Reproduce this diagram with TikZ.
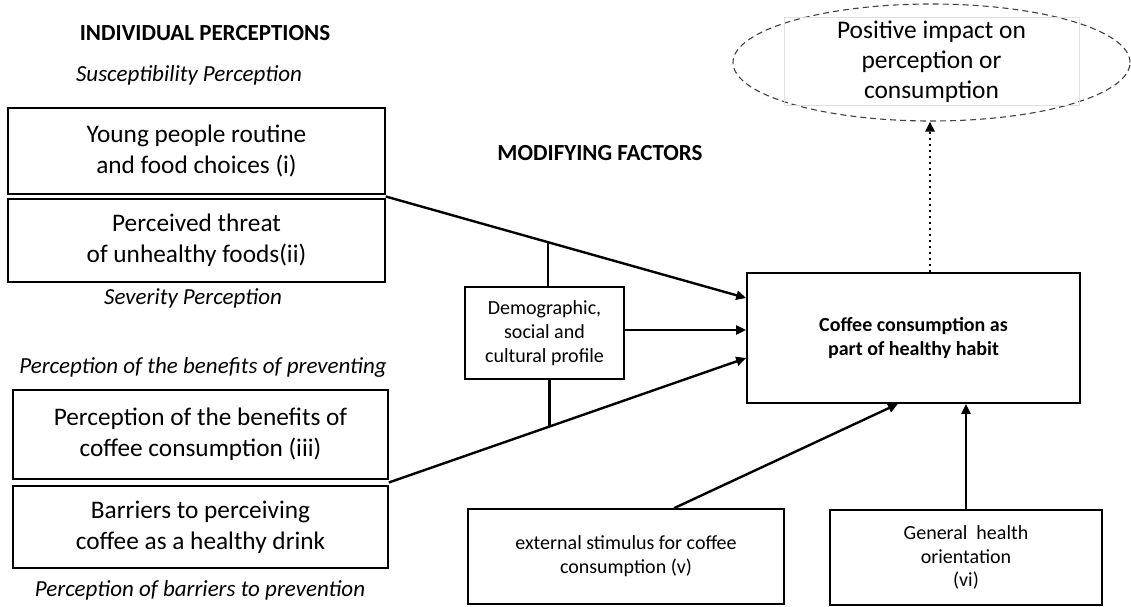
\documentclass[tikz,border=0pt]{standalone}
\usepackage{fontspec}
\setmainfont{Carlito}
\usetikzlibrary{arrows.meta,shapes.geometric,calc}
\tikzset{
  bigbox/.style={draw,line width=1.6pt,minimum width=377pt,align=center,inner sep=2pt,
    font=\fontsize{25.3}{31}\selectfont},
  midbox/.style={draw,line width=1.6pt,align=center,inner sep=2pt},
  smalltext/.style={font=\fontsize{20}{24}\selectfont},
  heading/.style={font=\fontsize{23}{27}\selectfont\bfseries},
  caption/.style={font=\fontsize{23}{27}\selectfont\itshape},
  link/.style={line width=2.4pt},
  flow/.style={link,-{Triangle[length=10pt,width=9pt]}},
  dots/.style={line width=2.6pt,dash pattern=on 2.6pt off 3.4pt,-{Triangle[length=10pt,width=9pt]}}
}
\begin{document}
\begin{tikzpicture}[x=1pt,y=-1pt]
\useasboundingbox (0,0) rectangle (1131,606);

% headings and perception captions
\node[heading] (hInd) at (205,33) {INDIVIDUAL PERCEPTIONS};
\node[caption] (cSus) at (189,75) {Susceptibility Perception};
\node[heading] (hMod) at (600,153) {MODIFYING FACTORS};
\node[caption] (cSev) at (193,298) {Severity Perception};
\node[caption] (cBen) at (203,367) {Perception of the benefits of preventing};
\node[caption] (cBar) at (200,590) {Perception of barriers to prevention};

% individual perception boxes
\node[bigbox,minimum height=86pt] (b1) at (196.5,151) {Young people routine\\and food choices (i)};
\node[bigbox,minimum height=83pt] (b2) at (196.5,240.5) {Perceived threat\\of unhealthy foods(ii)};
\node[bigbox,minimum height=89pt,minimum width=375pt] (b3) at (200.5,434.5) {Perception of the benefits of\\coffee consumption (iii)};
\node[bigbox,minimum height=82pt,minimum width=375pt] (b4) at (200.5,527) {Barriers to perceiving\\coffee as a healthy drink};

% modifying factor
\node[midbox,smalltext,minimum width=159pt,minimum height=92pt] (demo) at (544.5,333)
  {Demographic,\\social and\\cultural profile};

% central outcome
\node[midbox,minimum width=333pt,minimum height=130pt,font=\fontsize{20}{23.5}\selectfont\bfseries] (main) at (913.5,338)
  {Coffee consumption as\\part of healthy habit};

% cues to action
\node[midbox,smalltext,minimum width=316pt,minimum height=95pt] (ext) at (626,556.5)
  {external stimulus for coffee\\consumption (v)};
\node[midbox,font=\fontsize{20}{23.5}\selectfont,minimum width=272pt,minimum height=95pt] (gen) at (966,557.5)
  {General\ \ health\\orientation\\(vi)};

% result
\node[draw=black!75,line width=1.1pt,dash pattern=on 6pt off 4pt,ellipse,
  minimum width=397pt,minimum height=117pt] (ell) at (931.5,62.5) {};
\node[draw=black!12,line width=0.8pt,minimum width=295pt,minimum height=77pt,align=center,
  font=\fontsize{25.4}{30}\selectfont] (res) at (931.5,61.5)
  {Positive impact on\\perception or\\consumption};

% connectors into the outcome
\coordinate (c12) at ($(b1.south east)!0.5!(b2.north east)$);
\coordinate (c34) at ($(b3.south east)!0.5!(b4.north east)$);
\coordinate (a1) at ([yshift=40pt]main.west);
\coordinate (a2) at ([yshift=8pt]main.west);
\coordinate (a3) at ([yshift=-20pt]main.west);

\draw[flow] (c12) -- coordinate[pos=0.45] (m1) (a1);
\draw[flow] (c34) -- coordinate[pos=0.45] (m2) (a3);
\draw[flow] (demo.east |- a2) -- (a2);
\draw[link] (m1) -- (m1 |- demo.north);
\draw[link] (m2) -- (m2 |- demo.south);

\draw[flow] ([xshift=48pt]ext.north) -- ([xshift=-15.5pt]main.south);
\draw[flow] (gen.north) -- (gen.north |- main.south);

\draw[dots] ([xshift=16.5pt]main.north) -- ([xshift=16.5pt]main.north |- ell.south);
\end{tikzpicture}
\end{document}
